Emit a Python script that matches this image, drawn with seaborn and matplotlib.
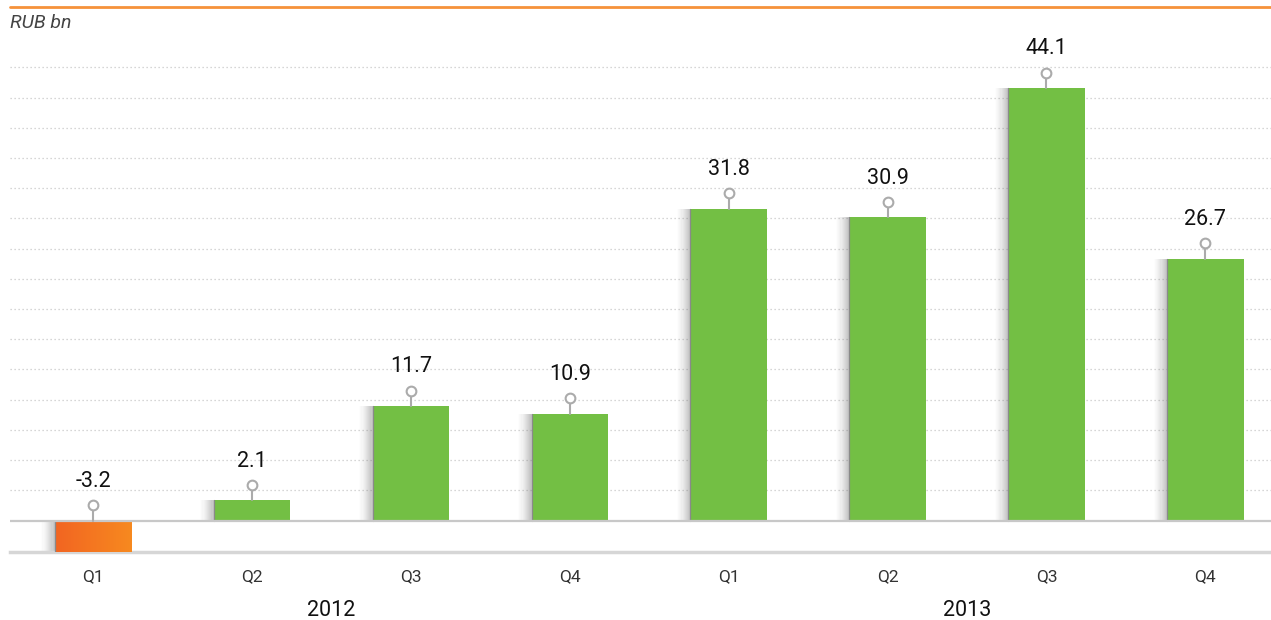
import numpy as np
import pandas as pd
import matplotlib
matplotlib.use("Agg")
import matplotlib.pyplot as plt
import matplotlib.transforms as mtransforms
from matplotlib.lines import Line2D
import seaborn as sns

# Data
years = ["2012", "2013"]
quarters = ["Q1", "Q2", "Q3", "Q4", "Q1", "Q2", "Q3", "Q4"]
periods = ["2012 Q1", "2012 Q2", "2012 Q3", "2012 Q4",
           "2013 Q1", "2013 Q2", "2013 Q3", "2013 Q4"]
values = [-3.2, 2.1, 11.7, 10.9, 31.8, 30.9, 44.1, 26.7]
labels = ["-3.2", "2.1", "11.7", "10.9", "31.8", "30.9", "44.1", "26.7"]

GREEN = "#73bf44"
ORANGE = "#f4701f"
colors = [ORANGE if v < 0 else GREEN for v in values]

df = pd.DataFrame({"period": periods, "value": values})

sns.set_style("white")
plt.rcParams["font.family"] = ["Roboto", "DejaVu Sans"]

W, H = 1271, 620
fig = plt.figure(figsize=(W / 100, H / 100), dpi=100)
ax = fig.add_axes([10 / W, (H - 552) / H, 1 - 10 / W, (552 - 30) / H])

bar_w = 0.48
sns.barplot(data=df, x="period", y="value", hue="period", palette=colors,
            order=periods, width=bar_w, legend=False, saturation=1,
            edgecolor="none", ax=ax, zorder=3)

# dotted gridlines
grid_step = 3.08
for k in range(1, 16):
    ax.axhline(k * grid_step, color="#c9c9c9", lw=0.9, ls=(0, (1, 2.2)), zorder=1)
ax.axhline(0, color="#c8c8c8", lw=1.6, zorder=4)

# left shadows and edges
shadow_w = 0.085
n = 12
for i, v in enumerate(values):
    left = i - bar_w / 2
    for j in range(n):
        a = 0.42 * (1 - j / n) ** 1.4
        x0 = left - (j + 1) * shadow_w / n
        ax.bar(x0, v, width=shadow_w / n, align="edge", color="#707070",
               alpha=a, lw=0, zorder=2)
    ax.plot([left, left], [0, v], color="#8a8a8a", lw=0.9, zorder=3.5)

# orange gradient on negative bar
cmap = matplotlib.colors.LinearSegmentedColormap.from_list("og", ["#f26522", "#f7891f"])
for i, v in enumerate(values):
    if v < 0:
        grad = np.linspace(0, 1, 64).reshape(1, -1)
        ax.imshow(grad, cmap=cmap, aspect="auto", zorder=3.2,
                  extent=[i - bar_w / 2, i + bar_w / 2, v, 0])
ax.set_xlim(-0.522, 7.413)
ax.set_ylim(-3.2, 50)

# pins and value labels
for i, (v, lab) in enumerate(zip(values, labels)):
    top = max(v, 0)
    ax.plot([i, i], [top, top + 1.1], color="#ababab", lw=1.5, zorder=5)
    ax.plot(i, top + 1.55, "o", ms=7, mfc="white", mec="#ababab", mew=1.5, zorder=6)
    ax.text(i, top + 2.9, lab, ha="center", va="bottom", fontsize=15.5,
            color="#111111", zorder=6)

# axes styling
for s in ["top", "right", "left"]:
    ax.spines[s].set_visible(False)
ax.spines["bottom"].set_color("#d6d6d6")
ax.spines["bottom"].set_linewidth(2.5)
ax.set_yticks([])
ax.set_xticks(range(len(quarters)))
ax.set_xticklabels(quarters, fontsize=12.5, color="#333333")
ax.tick_params(axis="x", length=0, pad=12)
ax.set_xlabel("")
ax.set_ylabel("")

# year labels
trans = mtransforms.blended_transform_factory(ax.transData, fig.transFigure)
for yr, xc in zip(years, [1.5, 5.5]):
    ax.text(xc, (H - 610) / H, yr, transform=trans, ha="center", va="center",
            fontsize=15.5, color="#111111")

# top orange rule and unit
fig.add_artist(Line2D([10 / W, 1], [(H - 7) / H] * 2, color="#f6923a", lw=2))
fig.text(10 / W, (H - 23) / H, "RUB bn", ha="left", va="center", fontsize=14,
         style="italic", color="#444444")

fig.savefig("out.png", dpi=100)
